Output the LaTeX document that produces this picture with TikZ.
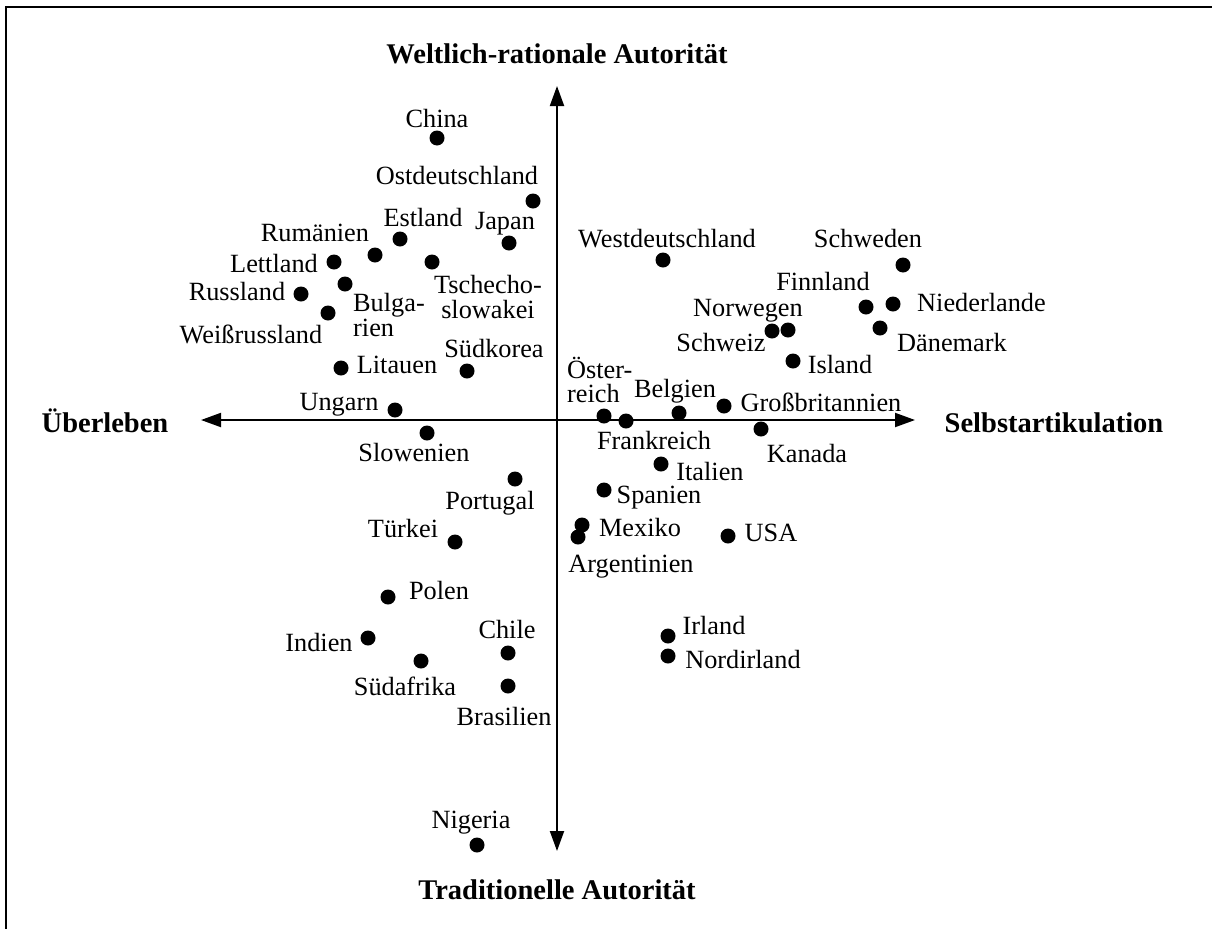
\documentclass[tikz,border=0pt]{standalone}
\usepackage{fontspec}
\setmainfont{Liberation Serif}
\usetikzlibrary{arrows.meta}
\newcommand\lblfont{\fontsize{26.3}{25}\selectfont}
\newcommand\ttlfont{\fontsize{28.5}{28.5}\selectfont\bfseries}
\begin{document}
\begin{tikzpicture}[x=1pt,y=-1pt,
  dot/.style={circle,fill=black,inner sep=0pt,minimum size=15pt},
  lbl/.style={anchor=base,inner sep=0pt,font=\lblfont},
  lblw/.style={lbl,anchor=base west},
  ttl/.style={anchor=base,inner sep=0pt,font=\ttlfont},
  axisline/.style={line width=2pt,{Triangle[length=20pt,width=14pt]}-{Triangle[length=20pt,width=14pt]}},
  frame/.style={line width=2.5pt}]
\useasboundingbox (0,0) rectangle (1212,929);

% open frame: top and left edges
\coordinate (fr-tr) at (1212,7);
\coordinate (fr-tl) at (6,7);
\coordinate (fr-bl) at (6,929);
\draw[frame] (fr-tr) -- (fr-tl) -- (fr-bl);

% axes
\coordinate (ax-top) at (557,86);
\coordinate (ax-bot) at (557,851);
\coordinate (ax-left) at (201,420);
\coordinate (ax-right) at (915,420);
\draw[axisline] (ax-bot) -- (ax-top);
\draw[axisline] (ax-left) -- (ax-right);

% axis titles
\node[ttl] (t-top) at (557,63) {Weltlich-rationale Autorität};
\node[ttl] (t-bot) at (557,899) {Traditionelle Autorität};
\node[ttl] (t-left) at (105,432) {Überleben};
\node[ttl] (t-right) at (1054,432) {Selbstartikulation};

% countries: dots
\node[dot] (d-chn) at (437,138) {};
\node[dot] (d-ode) at (533,201) {};
\node[dot] (d-jpn) at (509,243) {};
\node[dot] (d-est) at (400,239) {};
\node[dot] (d-rou) at (375,255) {};
\node[dot] (d-lva) at (334,262) {};
\node[dot] (d-cs)  at (432,262) {};
\node[dot] (d-bgr) at (345,284) {};
\node[dot] (d-rus) at (301,294) {};
\node[dot] (d-blr) at (328,313) {};
\node[dot] (d-ltu) at (341,368) {};
\node[dot] (d-kor) at (467,371) {};
\node[dot] (d-hun) at (395,410) {};
\node[dot] (d-svn) at (427,433) {};
\node[dot] (d-prt) at (515,479) {};
\node[dot] (d-tur) at (455,542) {};
\node[dot] (d-pol) at (388,597) {};
\node[dot] (d-ind) at (368,638) {};
\node[dot] (d-chl) at (508,653) {};
\node[dot] (d-zaf) at (421,661) {};
\node[dot] (d-bra) at (508,686) {};
\node[dot] (d-nga) at (477,845) {};
\node[dot] (d-wde) at (663,260) {};
\node[dot] (d-swe) at (903,265) {};
\node[dot] (d-fin) at (866,307) {};
\node[dot] (d-nld) at (893,304) {};
\node[dot] (d-che) at (772,331) {};
\node[dot] (d-nor) at (788,330) {};
\node[dot] (d-dnk) at (880,328) {};
\node[dot] (d-isl) at (793,361) {};
\node[dot] (d-aut) at (604,416) {};
\node[dot] (d-fra) at (626,421) {};
\node[dot] (d-bel) at (679,413) {};
\node[dot] (d-gbr) at (724,406) {};
\node[dot] (d-can) at (761,429) {};
\node[dot] (d-ita) at (661,464) {};
\node[dot] (d-esp) at (604,490) {};
\node[dot] (d-mex) at (582,525) {};
\node[dot] (d-arg) at (578,537) {};
\node[dot] (d-usa) at (728,536) {};
\node[dot] (d-irl) at (668,636) {};
\node[dot] (d-nir) at (668,656) {};

% countries: names
\node[lbl] (l-chn) at (437,127) {China};
\node[lbl] (l-ode) at (457,184) {Ostdeutschland};
\node[lbl] (l-jpn) at (505,229) {Japan};
\node[lbl] (l-est) at (423,226) {Estland};
\node[lbl] (l-rou) at (315,241) {Rumänien};
\node[lbl] (l-lva) at (274,272) {Lettland};
\node[lbl] (l-cs)  at (488,293) {\begin{tabular}[t]{@{}c@{}}Tschecho-\\slowakei\end{tabular}};
\node[lblw] (l-bgr) at (353,311) {\begin{tabular}[t]{@{}l@{}}Bulga-\\rien\end{tabular}};
\node[lbl] (l-rus) at (237,300) {Russland};
\node[lbl] (l-blr) at (251,343) {Weißrussland};
\node[lbl] (l-ltu) at (397,373) {Litauen};
\node[lbl] (l-kor) at (494,357) {Südkorea};
\node[lbl] (l-hun) at (339,410) {Ungarn};
\node[lbl] (l-svn) at (414,461) {Slowenien};
\node[lbl] (l-prt) at (490,509) {Portugal};
\node[lbl] (l-tur) at (403,537) {Türkei};
\node[lbl] (l-pol) at (439,599) {Polen};
\node[lbl] (l-ind) at (319,651) {Indien};
\node[lbl] (l-chl) at (507,638) {Chile};
\node[lbl] (l-zaf) at (405,695) {Südafrika};
\node[lbl] (l-bra) at (504,725) {Brasilien};
\node[lbl] (l-nga) at (471,828) {Nigeria};
\node[lbl] (l-wde) at (667,247) {Westdeutschland};
\node[lbl] (l-swe) at (868,247) {Schweden};
\node[lbl] (l-fin) at (823,290) {Finnland};
\node[lblw] (l-nld) at (917,311) {Niederlande};
\node[lbl] (l-nor) at (748,316) {Norwegen};
\node[lbl] (l-che) at (721,351) {Schweiz};
\node[lblw] (l-dnk) at (897,351) {Dänemark};
\node[lbl] (l-isl) at (840,373) {Island};
\node[lblw] (l-aut) at (567,378) {\fontsize{26.3}{20}\selectfont\begin{tabular}[t]{@{}l@{}}Öster-\\reich\end{tabular}};
\node[lbl] (l-bel) at (675,397) {Belgien};
\node[lbl] (l-gbr) at (821,411) {Großbritannien};
\node[lbl] (l-fra) at (654,449) {Frankreich};
\node[lbl] (l-can) at (807,462) {Kanada};
\node[lbl] (l-ita) at (710,480) {Italien};
\node[lbl] (l-esp) at (659,503) {Spanien};
\node[lbl] (l-mex) at (640,536) {Mexiko};
\node[lbl] (l-arg) at (631,572) {Argentinien};
\node[lbl] (l-usa) at (771,541) {USA};
\node[lbl] (l-irl) at (714,634) {Irland};
\node[lbl] (l-nir) at (743,668) {Nordirland};
\end{tikzpicture}
\end{document}
